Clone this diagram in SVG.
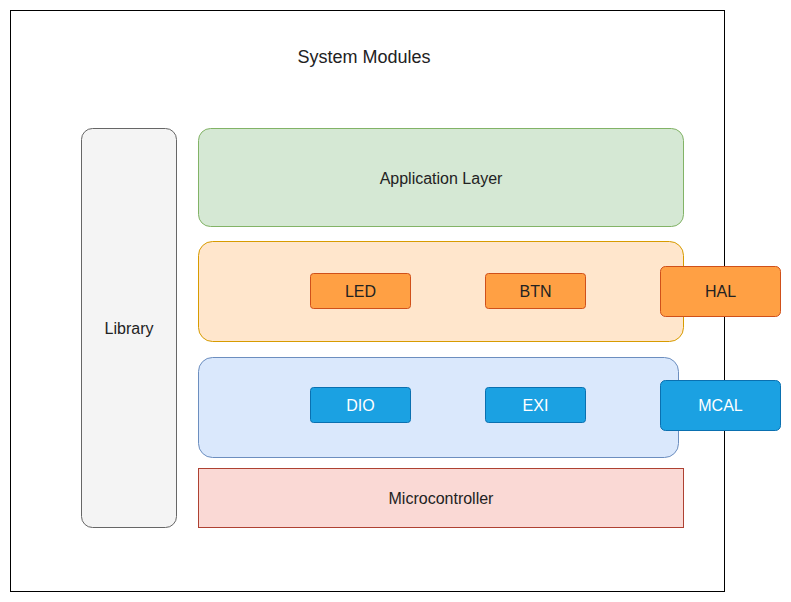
<svg xmlns="http://www.w3.org/2000/svg" width="791" height="602" viewBox="0 0 791 602">
<style>
text{font-family:"Liberation Sans",Arial,sans-serif;font-size:16px;text-anchor:middle;dominant-baseline:central;fill:#222}
.w{fill:#ffffff}
.mod{fill:#ffa044;stroke:#d0501a;stroke-width:1}
.mc{fill:#1ba1e2;stroke:#0a70b0;stroke-width:1}
</style>
<rect width="791" height="602" fill="#ffffff"/>
<g id="system">
<rect x="10.5" y="10.5" width="714" height="581" fill="#ffffff" stroke="#000000"/>
<text x="364" y="57" style="font-size:18px">System Modules</text>
</g>
<g id="library">
<rect x="81.5" y="128.5" width="95" height="399" rx="11" fill="#f4f4f4" stroke="#666666"/>
<text x="129" y="328" fill="#555">Library</text>
</g>
<g id="app">
<rect x="198.5" y="128.5" width="485" height="98" rx="12" fill="#d5e8d4" stroke="#82b366"/>
<text x="441" y="178">Application Layer</text>
</g>
<g id="hal-layer">
<rect x="198.5" y="241.5" width="485" height="100" rx="14" fill="#ffe6cc" stroke="#d79b00"/>
</g>
<g id="led">
<rect class="mod" x="310.5" y="273.5" width="100" height="35" rx="3"/>
<text x="360.5" y="291.5">LED</text>
</g>
<g id="btn">
<rect class="mod" x="485.5" y="273.5" width="100" height="35" rx="3"/>
<text x="535.5" y="291.5">BTN</text>
</g>
<g id="hal">
<rect class="mod" x="660.5" y="266.5" width="120" height="50" rx="5"/>
<text x="720.5" y="291.5">HAL</text>
</g>
<g id="mcal-layer">
<rect x="198.5" y="357.5" width="480" height="100" rx="14" fill="#dae8fc" stroke="#6c8ebf"/>
</g>
<g id="dio">
<rect class="mc" x="310.5" y="387.5" width="100" height="35" rx="3"/>
<text class="w" x="360.5" y="405.5">DIO</text>
</g>
<g id="exi">
<rect class="mc" x="485.5" y="387.5" width="100" height="35" rx="3"/>
<text class="w" x="535.5" y="405.5">EXI</text>
</g>
<g id="mcal">
<rect class="mc" x="660.5" y="380.5" width="120" height="50" rx="5"/>
<text class="w" x="720.5" y="405.5">MCAL</text>
</g>
<g id="micro">
<rect x="198.5" y="468.5" width="485" height="59" fill="#fad9d5" stroke="#ae4132"/>
<text x="441" y="498">Microcontroller</text>
</g>
<g id="connectors"></g>
</svg>
